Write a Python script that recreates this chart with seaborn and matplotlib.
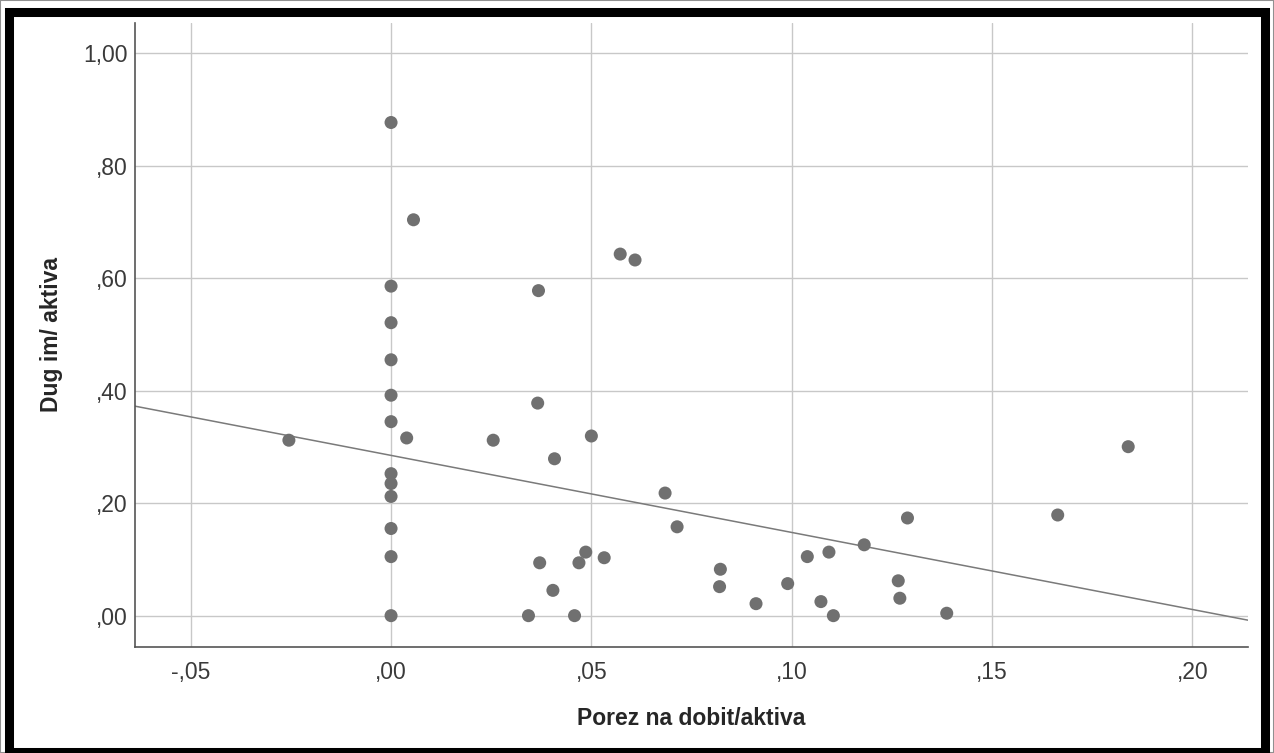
import matplotlib
matplotlib.use('Agg')
import matplotlib.pyplot as plt
import matplotlib.patches as patches
import seaborn as sns
import pandas as pd

# Podaci (ocitani sa grafikona)
porez = [0.0, 0.0, 0.0, 0.0, 0.0, 0.0, 0.0, 0.0, 0.0, 0.0, 0.0, 0.0,
         -0.0255, 0.0039, 0.0056, 0.0255, 0.0343, 0.0366, 0.0368, 0.0371,
         0.0404, 0.0408, 0.0458, 0.0469, 0.0486, 0.0500, 0.0532, 0.0572,
         0.0609, 0.0684, 0.0714, 0.0822, 0.0820, 0.0911, 0.0990, 0.1039,
         0.1073, 0.1093, 0.1104, 0.1181, 0.1266, 0.1270, 0.1289, 0.1387,
         0.1664, 0.1840]
dug = [0.877, 0.586, 0.521, 0.455, 0.392, 0.345, 0.2525, 0.235, 0.212, 0.155, 0.105, 0.0,
       0.312, 0.316, 0.704, 0.312, 0.0, 0.378, 0.578, 0.094,
       0.045, 0.279, 0.0, 0.094, 0.113, 0.3195, 0.103, 0.643,
       0.6325, 0.218, 0.158, 0.0825, 0.0516, 0.0213, 0.057, 0.105,
       0.025, 0.113, 0.0, 0.126, 0.062, 0.031, 0.1737, 0.0043,
       0.179, 0.3005]

# linija regresije (SPSS fit line)
fit_intercept = 0.285
fit_slope = -1.37

x_ticks = [-0.05, 0.0, 0.05, 0.10, 0.15, 0.20]
x_tick_labels = ['-,05', ',00', ',05', ',10', ',15', ',20']
y_ticks = [0.0, 0.2, 0.4, 0.6, 0.8, 1.0]
y_tick_labels = [',00', ',20', ',40', ',60', ',80', '1,00']

df = pd.DataFrame({'Porez na dobit/aktiva': porez, 'Dug im/ aktiva': dug})

sns.set_style('white')
plt.rcParams['font.family'] = ['Liberation Sans', 'DejaVu Sans']

fig = plt.figure(figsize=(12.74, 7.53), dpi=100)
ax = fig.add_axes([0.106, 0.1408, 0.8736, 0.8287])

ax.grid(True, color='#c8c8c8', linewidth=1.0)
ax.set_axisbelow(True)

sns.scatterplot(data=df, x='Porez na dobit/aktiva', y='Dug im/ aktiva', ax=ax,
                color='#707070', s=88, edgecolor='none', zorder=3)
ax.axline((0, fit_intercept), slope=fit_slope, color='#7a7a7a', linewidth=1.1, zorder=2)

ax.set_xlim(-0.0639, 0.2139)
ax.set_ylim(-0.0557, 1.054)
ax.set_xticks(x_ticks)
ax.set_xticklabels(x_tick_labels)
ax.set_yticks(y_ticks)
ax.set_yticklabels(y_tick_labels)
ax.tick_params(axis='both', length=0, labelsize=16.5, labelcolor='#3a3a3a')
ax.tick_params(axis='y', pad=5.5)
ax.tick_params(axis='x', pad=10)

ax.set_xlabel('Porez na dobit/aktiva', fontsize=16.5, fontweight='bold', labelpad=17)
ax.set_ylabel('Dug im/ aktiva', fontsize=16.5, fontweight='bold', labelpad=14)

for side in ['top', 'right']:
    ax.spines[side].set_visible(False)
for side in ['left', 'bottom']:
    ax.spines[side].set_color('#555555')
    ax.spines[side].set_linewidth(1.2)

# okvir slike
fig.patches.append(patches.Rectangle((0.0, 0.0), 1.0, 1.0, transform=fig.transFigure,
                                     fill=False, edgecolor='#909090', linewidth=1.5))
fig.patches.append(patches.Rectangle((9 / 1274, 1 - 752 / 753), 1256 / 1274, 740 / 753,
                                     transform=fig.transFigure, fill=False,
                                     edgecolor='black', linewidth=6.5))

fig.savefig('out.png', dpi=100, facecolor='white')
